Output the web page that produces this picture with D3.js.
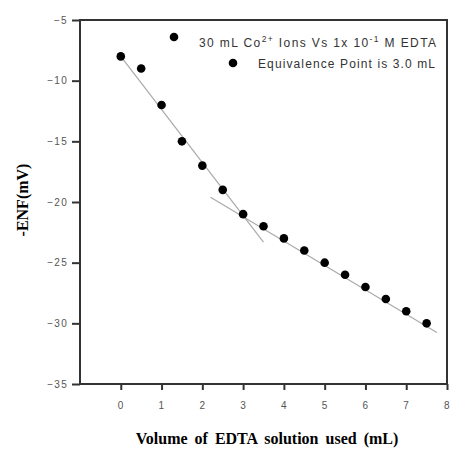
<!DOCTYPE html>
<html>
<head>
<meta charset="utf-8">
<script src="https://cdn.jsdelivr.net/npm/d3@7"></script>
<style>
  body { margin: 0; background: #fff; }
  svg { display: block; }
</style>
</head>
<body>
<svg id="chart"></svg>
<script>
const volume = [0, 0.5, 1, 1.5, 2, 2.5, 3, 3.5, 4, 4.5, 5, 5.5, 6, 6.5, 7, 7.5];
const enf = [-8, -9, -12, -15, -17, -19, -21, -22, -23, -24, -25, -26, -27, -28, -29, -30];

// fitted lines, [x, y] ends
const fitBefore = [[0, -8], [3.5, -23.3]];
const fitAfter = [[2.2, -19.6], [7.75, -30.75]];

const xTicks = [0, 1, 2, 3, 4, 5, 6, 7, 8];
const yTicks = [-5, -10, -15, -20, -25, -30, -35];

const w = 450;
const h = 449;

const svg = d3.select('#chart')
  .attr('width', w)
  .attr('height', h);

const plotLeft = 80, plotRight = 447, plotTop = 20, plotBottom = 384;

const x = d3.scaleLinear().domain([-1, 8]).range([plotLeft, plotRight]);
const y = d3.scaleLinear().domain([-35, -5]).range([plotBottom, plotTop]);

const axisColor = '#333';

// frame
svg.append('rect')
  .attr('x', plotLeft).attr('y', plotTop)
  .attr('width', plotRight - plotLeft).attr('height', plotBottom - plotTop)
  .attr('fill', 'none')
  .attr('stroke', axisColor)
  .attr('stroke-width', 2);

const xAxis = svg.append('g')
  .attr('transform', `translate(0,${plotBottom})`)
  .call(d3.axisBottom(x).tickValues(xTicks).tickSize(6).tickPadding(12).tickFormat(d3.format('d')));

const yAxis = svg.append('g')
  .attr('transform', `translate(${plotLeft},0)`)
  .call(d3.axisLeft(y).tickValues(yTicks).tickSize(8).tickPadding(4).tickFormat(d3.format('d')));

[xAxis, yAxis].forEach(g => {
  g.select('.domain').remove();
  g.selectAll('.tick line').attr('stroke', axisColor).attr('stroke-width', 2);
  g.selectAll('.tick text')
    .attr('fill', '#555')
    .style('font-family', 'Arial, "Liberation Sans", sans-serif')
    .style('font-size', '10px')
    .style('letter-spacing', '1.3px');
});

// fit lines
const line = d3.line().x(d => x(d[0])).y(d => y(d[1]));
[fitBefore, fitAfter].forEach(seg => {
  svg.append('path')
    .attr('d', line(seg))
    .attr('fill', 'none')
    .attr('stroke', '#aaa')
    .attr('stroke-width', 1.2);
});

// points
svg.append('g')
  .selectAll('circle')
  .data(volume)
  .enter()
  .append('circle')
  .attr('cx', (d) => x(d))
  .attr('cy', (d, i) => y(enf[i]))
  .attr('r', 4.3)
  .attr('fill', '#000');

// legend
const legend = svg.append('g')
  .style('font-family', 'Arial, "Liberation Sans", sans-serif')
  .style('font-size', '12px')
  .attr('fill', '#333');

legend.append('circle').attr('cx', 174).attr('cy', 37).attr('r', 4.3).attr('fill', '#000');
legend.append('circle').attr('cx', 233).attr('cy', 63).attr('r', 4.3).attr('fill', '#000');

const t1 = legend.append('text')
  .attr('x', 436).attr('y', 47)
  .attr('text-anchor', 'end')
  .attr('textLength', 237)
  .attr('lengthAdjust', 'spacing');
t1.append('tspan').text('30 mL Co');
t1.append('tspan').attr('dy', -5).style('font-size', '8.5px').text('2+');
t1.append('tspan').attr('dy', 5).text(' Ions Vs 1x 10');
t1.append('tspan').attr('dy', -5).style('font-size', '8.5px').text('-1');
t1.append('tspan').attr('dy', 5).text(' M EDTA');

legend.append('text')
  .attr('x', 435).attr('y', 68)
  .attr('text-anchor', 'end')
  .attr('textLength', 177)
  .attr('lengthAdjust', 'spacing')
  .text('Equivalence Point is 3.0 mL');

// axis titles
svg.append('text')
  .attr('x', 267).attr('y', 444)
  .attr('text-anchor', 'middle')
  .style('font-family', '"Liberation Serif", "Times New Roman", serif')
  .style('font-weight', 'bold')
  .style('font-size', '16px')
  .style('word-spacing', '3px')
  .attr('fill', '#000')
  .text('Volume of EDTA solution used (mL)');

svg.append('text')
  .attr('transform', 'translate(28,200) rotate(-90)')
  .attr('text-anchor', 'middle')
  .style('font-family', '"Liberation Serif", "Times New Roman", serif')
  .style('font-weight', 'bold')
  .style('font-size', '16px')
  .attr('fill', '#000')
  .text('-ENF(mV)');
</script>
</body>
</html>
